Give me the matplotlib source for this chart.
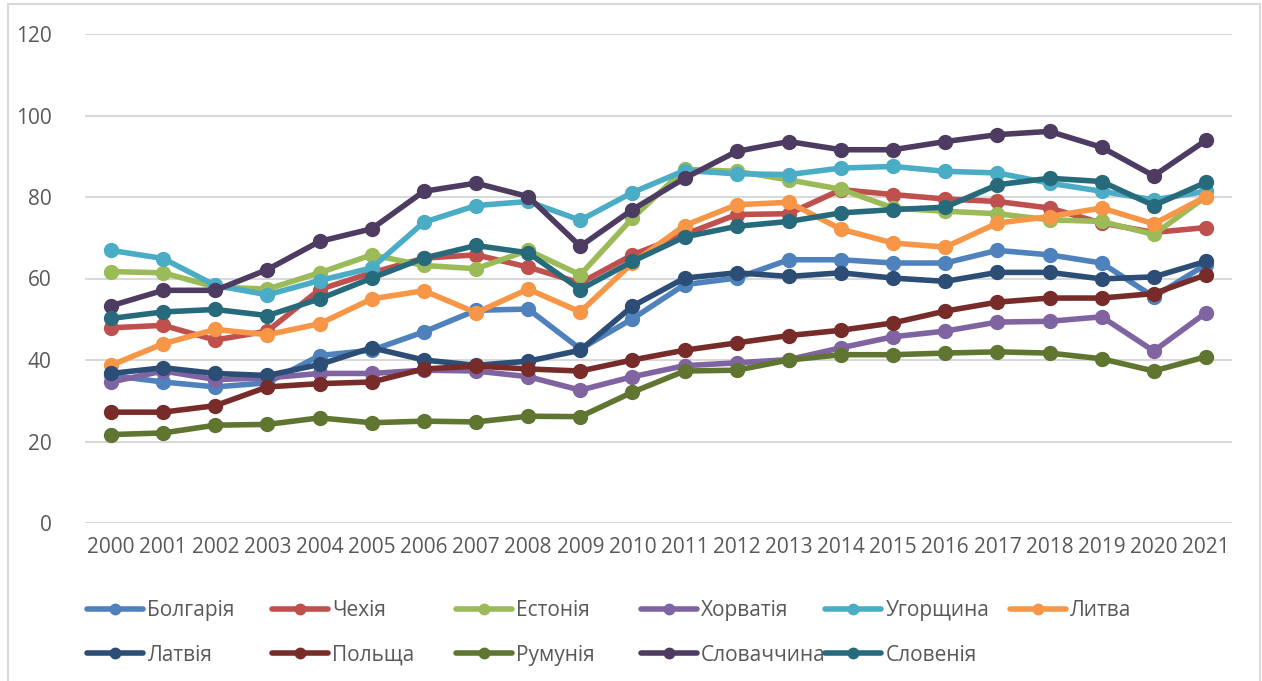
import matplotlib.pyplot as plt
from matplotlib.patches import Rectangle

plt.rcParams['font.family'] = ['Open Sans', 'DejaVu Sans']

years = [str(y) for y in range(2000, 2022)]

bulgaria = [36.2, 34.6, 33.4, 34.4, 41.1, 42.4, 46.9, 52.2, 52.5, 42.7, 50.1,
            58.5, 60.1, 64.6, 64.6, 63.8, 63.8, 66.9, 65.8, 63.8, 55.5, 63.4]
czechia = [47.9, 48.5, 44.9, 47.1, 57.3, 61.4, 65.0, 65.8, 62.8, 58.9, 65.8,
           70.8, 75.7, 75.9, 81.8, 80.6, 79.5, 78.9, 77.3, 73.6, 71.3, 72.5]
estonia = [61.7, 61.4, 57.9, 57.4, 61.4, 65.8, 63.2, 62.4, 66.9, 60.9, 74.8,
           86.8, 86.3, 84.2, 81.9, 77.3, 76.5, 75.9, 74.4, 74.0, 70.8, 80.1]
croatia = [34.6, 37.3, 35.2, 35.6, 36.7, 36.7, 37.5, 37.3, 35.9, 32.6, 35.9,
           38.6, 39.3, 40.1, 43.0, 45.7, 47.1, 49.3, 49.5, 50.6, 42.2, 51.6]
hungary = [66.9, 64.9, 58.3, 56.0, 59.5, 62.6, 73.8, 77.9, 78.9, 74.3, 81.1,
           86.5, 85.7, 85.5, 87.1, 87.5, 86.3, 85.9, 83.4, 81.4, 79.3, 81.4]
lithuania = [38.7, 44.0, 47.5, 46.2, 48.9, 55.0, 57.0, 51.6, 57.4, 51.8, 63.8,
             73.0, 78.1, 78.7, 72.1, 68.7, 67.7, 73.6, 75.2, 77.3, 73.4, 80.1]
latvia = [36.7, 38.1, 36.7, 36.2, 38.9, 43.0, 40.0, 38.7, 39.7, 42.4, 53.2,
          60.1, 61.4, 60.5, 61.4, 60.1, 59.3, 61.5, 61.5, 59.9, 60.4, 64.2]
poland = [27.2, 27.2, 28.8, 33.4, 34.2, 34.6, 37.8, 38.5, 37.8, 37.3, 40.0,
          42.4, 44.2, 46.0, 47.3, 49.1, 52.0, 54.2, 55.2, 55.2, 56.3, 60.9]
romania = [21.7, 22.1, 24.0, 24.2, 25.8, 24.6, 25.0, 24.8, 26.2, 26.1, 32.1,
           37.3, 37.5, 40.0, 41.3, 41.3, 41.7, 42.0, 41.7, 40.3, 37.3, 40.8]
slovakia = [53.3, 57.1, 57.1, 62.2, 69.1, 72.2, 81.4, 83.4, 80.1, 67.9, 76.9,
            84.6, 91.2, 93.6, 91.6, 91.6, 93.6, 95.3, 96.1, 92.2, 85.2, 93.9]
slovenia = [50.2, 51.8, 52.4, 50.9, 55.0, 60.1, 65.0, 68.1, 66.3, 57.3, 64.2,
            70.2, 72.8, 74.0, 76.1, 76.9, 77.5, 83.0, 84.6, 83.8, 77.9, 83.6]

names = ['Болгарія', 'Чехія', 'Естонія', 'Хорватія', 'Угорщина', 'Литва',
         'Латвія', 'Польща', 'Румунія', 'Словаччина', 'Словенія']
series = [bulgaria, czechia, estonia, croatia, hungary, lithuania,
          latvia, poland, romania, slovakia, slovenia]
colors = ['#4F81BD', '#C0504D', '#9BBB59', '#8064A2', '#4BACC6', '#F79646',
          '#2C4D75', '#772C2A', '#5F7530', '#4D3B62', '#276A7C']

W, H = 1262, 681
fig = plt.figure(figsize=(W / 100, H / 100), dpi=100)
ax = fig.add_axes([85 / W, (H - 523) / H, (1232 - 85) / W, (523 - 34) / H])

x = list(range(len(years)))
handles = []
for name, vals, c in zip(names, series, colors):
    h, = ax.plot(x, vals, color=c, lw=4, marker='o', markersize=10,
                 solid_capstyle='round', label=name, zorder=3)
    handles.append(h)

ax.set_xlim(-0.5, len(years) - 0.5)
ax.set_ylim(0, 120)
ax.set_yticks(range(0, 121, 20))
ax.set_xticks(x)
ax.set_xticklabels(years)
ax.grid(axis='y', color='#D9D9D9', lw=1.5)
ax.set_axisbelow(True)
for s in ax.spines.values():
    s.set_visible(False)
ax.tick_params(length=0, labelsize=15, colors='#595959')
ax.tick_params(axis='y', pad=24)
ax.tick_params(axis='x', pad=10)

# Excel-style legend: fixed-width columns, one small legend per column
col_w = 184.5
for j in range(6):
    idx = [j, j + 6] if j + 6 < len(names) else [j]
    leg = fig.legend([handles[i] for i in idx], [names[i] for i in idx],
                     loc='upper left',
                     bbox_to_anchor=((87 + j * col_w) / W, 1 - 600 / H),
                     frameon=False, fontsize=15, handlelength=2.7,
                     handletextpad=0.2, labelspacing=1.14, markerscale=0.75,
                     borderpad=0, borderaxespad=0)
    for t in leg.get_texts():
        t.set_color('#595959')

# chart border
fig.patches.append(Rectangle((8 / W, -0.1), (1260 - 8) / W, 1.1 - 4 / H,
                             transform=fig.transFigure, fill=False,
                             edgecolor='#D9D9D9', lw=1.5))

fig.savefig('out.png', dpi=100)
